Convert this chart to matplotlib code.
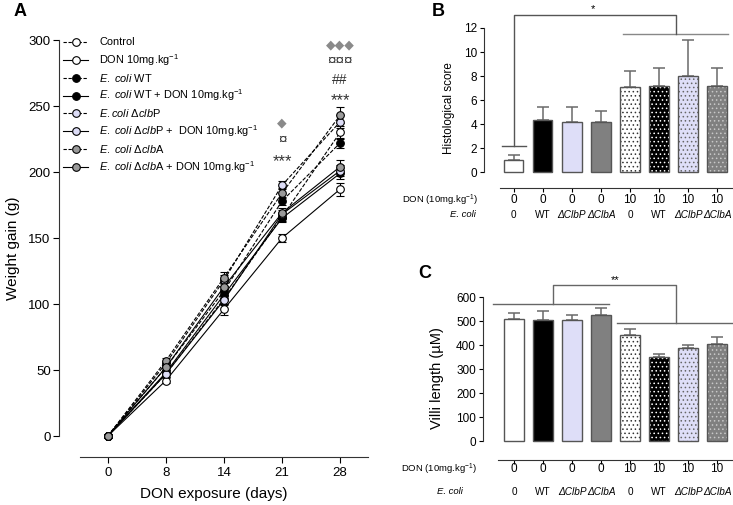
import matplotlib
matplotlib.use("Agg")
import matplotlib.pyplot as plt
from matplotlib.lines import Line2D
from matplotlib.transforms import blended_transform_factory
import numpy as np

plt.rcParams['font.family'] = ['Liberation Sans', 'DejaVu Sans']
plt.rcParams['mathtext.fontset'] = 'custom'
plt.rcParams['mathtext.rm'] = 'Liberation Sans'
plt.rcParams['mathtext.it'] = 'Liberation Sans:italic'
plt.rcParams['hatch.linewidth'] = 0.6

# ---------------- data ----------------
days = ["0", "8", "14", "21", "28"]
series_labels = [
    "Control",
    "DON 10mg.kg$^{-1}$",
    "$\\it{E.\\ coli}$ WT",
    "$\\it{E.\\ coli}$ WT + DON 10mg.kg$^{-1}$",
    "$\\it{E.coli}$ Δ$\\it{clb}$P",
    "$\\it{E.\\ coli}$ Δ$\\it{clb}$P +  DON 10mg.kg$^{-1}$",
    "$\\it{E.\\ coli}$ Δ$\\it{clb}$A",
    "$\\it{E.\\ coli}$ Δ$\\it{clb}$A + DON 10mg.kg$^{-1}$",
]
control      = [0, 47, 104, 166, 230]
don          = [0, 42, 96, 150, 187]
wt           = [0, 52, 110, 178, 222]
wt_don       = [0, 48, 107, 165, 199]
clbp         = [0, 55, 118, 190, 238]
clbp_don     = [0, 47, 103, 168, 201]
clba         = [0, 57, 120, 184, 243]
clba_don     = [0, 52, 113, 169, 204]
control_err  = [0, 2, 4, 3, 5]
don_err      = [0, 2, 4, 3, 5]
wt_err       = [0, 2, 4, 3, 4]
wt_don_err   = [0, 2, 4, 3, 4]
clbp_err     = [0, 2, 4, 3, 5]
clbp_don_err = [0, 2, 4, 3, 4]
clba_err     = [0, 2, 4, 4, 6]
clba_don_err = [0, 2, 4, 4, 5]

series_vals = [control, don, wt, wt_don, clbp, clbp_don, clba, clba_don]
series_errs = [control_err, don_err, wt_err, wt_don_err, clbp_err, clbp_don_err, clba_err, clba_don_err]
series_face = ['white', 'white', 'black', 'black', '#dcdcf6', '#dcdcf6', '#9a9a9a', '#9a9a9a']
series_dash = [True, False, True, False, True, False, True, False]

don_row = ["0", "0", "0", "0", "10", "10", "10", "10"]
ecoli_row = ["0", "WT", "ΔClbP", "ΔClbA", "0", "WT", "ΔClbP", "ΔClbA"]
ecoli_italic = [False, False, True, True, False, False, True, True]

histo_score = [1.0, 4.3, 4.15, 4.2, 7.05, 7.2, 8.0, 7.2]
histo_err   = [0.45, 1.1, 1.3, 0.9, 1.4, 1.5, 3.0, 1.5]
villi_len   = [510, 505, 505, 527, 442, 352, 386, 403]
villi_err   = [25, 37, 22, 28, 23, 12, 15, 30]

bar_face   = ['white', 'black', '#dedef8', '#808080', 'white', 'black', '#dedef8', '#808080']
bar_hatch  = [None, None, None, None, '....', '....', '....', '....']
hatch_col  = [None, None, None, None, '#333333', 'white', '#666666', '#c8c8c8']

# ---------------- figure ----------------
W, H = 733, 505
fig = plt.figure(figsize=(W / 100, H / 100), dpi=100)

def ax_px(l, t, r, b):
    return fig.add_axes([l / W, 1 - b / H, (r - l) / W, (b - t) / H])

def fx(x):
    return x / W

def fy(y):
    return 1 - y / H

# ---------- Panel A ----------
axA = ax_px(59, 40, 368, 457)
xs = np.arange(len(days))
for vals, errs, fc, dsh in zip(series_vals, series_errs, series_face, series_dash):
    ls = (0, (3.5, 1.5)) if dsh else '-'
    axA.errorbar(xs, vals, yerr=errs, color='black', ecolor='black', elinewidth=0.8,
                 capsize=3, capthick=0.8, linestyle=ls, linewidth=0.8,
                 marker='o', markersize=5.5, markerfacecolor=fc, markeredgecolor='black',
                 markeredgewidth=0.8, zorder=3)
axA.set_xlim(-0.84, 4.48)
axA.set_ylim(-15.9, 300)
axA.set_xticks(xs)
axA.set_xticklabels(days, fontsize=9.5)
axA.set_yticks([0, 50, 100, 150, 200, 250, 300])
axA.tick_params(axis='y', labelsize=9.5, length=4, width=0.8, pad=2)
axA.tick_params(axis='x', labelsize=9.5, length=4, width=0.8, pad=3)
for s in ['top', 'right']:
    axA.spines[s].set_visible(False)
axA.spines['left'].set_bounds(0, 300)
axA.spines['bottom'].set_bounds(-0.48, 4.48)
axA.spines['left'].set_color('#333333')
axA.spines['bottom'].set_color('#333333')
axA.set_ylabel("Weight gain (g)", fontsize=11, labelpad=6)
axA.set_xlabel("DON exposure (days)", fontsize=11, labelpad=6)

sym_kw = dict(ha='center', va='center', clip_on=False)
axA.text(3, 237, "◆", color='#8a8a8a', fontsize=9, **sym_kw)
axA.text(3, 224, "¤", color='#333333', fontsize=11, **sym_kw)
axA.text(3, 208, "***", color='#333333', fontsize=12, **sym_kw)
axA.text(4, 296, "◆◆◆", color='#8a8a8a', fontsize=9, **sym_kw)
axA.text(4, 284, "¤¤¤", color='#333333', fontsize=11, **sym_kw)
axA.text(4, 270, "##", color='#333333', fontsize=10, **sym_kw)
axA.text(4, 254, "***", color='#333333', fontsize=12, **sym_kw)

# manual legend
for i, (lab, fc, dsh) in enumerate(zip(series_labels, series_face, series_dash)):
    y = 42 + 17.85 * i
    ls = (0, (3.0, 1.5)) if dsh else '-'
    fig.add_artist(Line2D([fx(63), fx(88)], [fy(y), fy(y)], color='black', lw=0.8, linestyle=ls))
    fig.add_artist(Line2D([fx(75.5)], [fy(y)], marker='o', markersize=5.5, markerfacecolor=fc,
                          markeredgecolor='black', markeredgewidth=0.8, linestyle='none'))
    fig.text(fx(99), fy(y), lab, fontsize=7.9, va='center', ha='left')

fig.text(fx(20), fy(12), "A", fontsize=13, fontweight='bold', ha='center', va='center')

# ---------- bar panels ----------
def bar_panel(ax, vals, errs, ylim, yticks, ybounds, xl, xb_left):
    xi = np.arange(len(vals))
    w = 0.66
    for i in xi:
        if bar_hatch[i]:
            ax.bar(i, vals[i], width=w, color=bar_face[i], edgecolor=hatch_col[i],
                   hatch=bar_hatch[i], linewidth=0, zorder=2)
            ax.bar(i, vals[i], width=w, color='none', edgecolor='#555555', linewidth=1.0, zorder=3)
        else:
            ax.bar(i, vals[i], width=w, color=bar_face[i], edgecolor='#555555', linewidth=1.0, zorder=2)
    ax.errorbar(xi, vals, yerr=[np.zeros(len(vals)), errs], fmt='none', ecolor='#6a6a6a',
                elinewidth=1.1, capsize=4, capthick=1.1, zorder=1)
    ax.set_xlim(*xl)
    ax.set_ylim(*ylim)
    ax.set_yticks(yticks)
    ax.set_xticks(xi)
    ax.set_xticklabels([])
    ax.tick_params(axis='y', labelsize=8.5, length=3, width=0.8, pad=2)
    ax.tick_params(axis='x', length=3, width=0.8)
    for s in ['top', 'right']:
        ax.spines[s].set_visible(False)
    ax.spines['left'].set_bounds(*ybounds)
    ax.spines['bottom'].set_bounds(xb_left, 7.55)
    ax.spines['left'].set_color('#333333')
    ax.spines['bottom'].set_color('#333333')

def row_labels(ax, y_don, y_ecoli, xr_don, xr_ecoli):
    tr = blended_transform_factory(ax.transData, fig.transFigure)
    for i, (d, e, it) in enumerate(zip(don_row, ecoli_row, ecoli_italic)):
        ax.text(i, fy(y_don), d, transform=tr, ha='center', va='center', fontsize=8.5)
        ax.text(i, fy(y_ecoli), e, transform=tr, ha='center', va='center', fontsize=7.2,
                fontstyle='italic' if it else 'normal')
    fig.text(fx(xr_don), fy(y_don), "DON (10mg.kg$^{-1}$)", ha='right', va='center', fontsize=6.8)
    fig.text(fx(xr_ecoli), fy(y_ecoli), "E. coli", ha='right', va='center', fontsize=6.8,
             fontstyle='italic')

# Panel B
axB = ax_px(484, 28, 733, 188)
bar_panel(axB, histo_score, histo_err, (-1.333, 12), [0, 2, 4, 6, 8, 10, 12], (0, 12),
          (-1.03, 7.55), -0.48)
axB.set_ylabel("Histological score", fontsize=8.4, labelpad=6)
row_labels(axB, 200, 215, 478, 476)
bk = dict(color='#555555', lw=1.0, clip_on=False, zorder=4)
axB.plot([-0.4, 0.4], [2.2, 2.2], **bk)
axB.plot([0, 0, 5.59, 5.59], [2.2, 13.1, 13.1, 11.5], **bk)
axB.plot([3.76, 7.38], [11.5, 11.5], color='#888888', lw=1.0, clip_on=False)
axB.text(2.72, 13.55, "*", ha='center', va='center', fontsize=8, clip_on=False)
fig.text(fx(438), fy(11), "B", fontsize=13, fontweight='bold', ha='center', va='center')

# Panel C
axC = ax_px(483, 297, 733, 460)
bar_panel(axC, villi_len, villi_err, (-79, 600), [0, 100, 200, 300, 400, 500, 600], (0, 600),
          (-1.07, 7.55), -0.55)
axC.set_ylabel("Villi length (µM)", fontsize=10.5, labelpad=9)
row_labels(axC, 469, 492, 477, 463)
bc = dict(color='#666666', lw=1.0, clip_on=False, zorder=4)
axC.plot([1.34, 1.34, 5.59, 5.59], [571, 650, 650, 492], **bc)
axC.plot([-0.72, 3.28], [571, 571], **bc)
axC.plot([3.55, 7.55], [492, 492], **bc)
axC.text(3.48, 672, "**", ha='center', va='center', fontsize=8, clip_on=False)
fig.text(fx(425), fy(273), "C", fontsize=13, fontweight='bold', ha='center', va='center')

fig.savefig("out.png", dpi=100)
